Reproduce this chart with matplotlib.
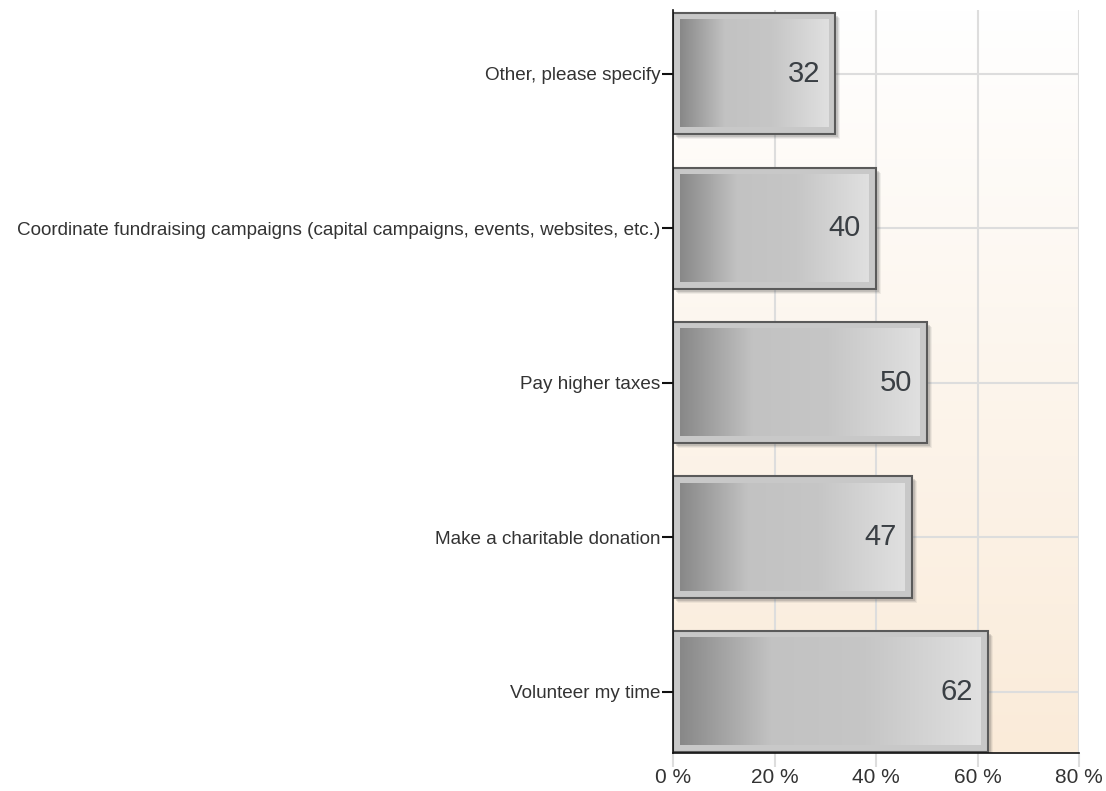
import numpy as np
import matplotlib
matplotlib.use("Agg")
import matplotlib.pyplot as plt
from matplotlib.colors import LinearSegmentedColormap
from matplotlib.patches import Rectangle

plt.rcParams['font.family'] = ['Liberation Sans', 'DejaVu Sans']

categories = [
    "Volunteer my time",
    "Make a charitable donation",
    "Pay higher taxes",
    "Coordinate fundraising campaigns (capital campaigns, events, websites, etc.)",
    "Other, please specify",
]
values = [62, 47, 50, 40, 32]
xticks = [0, 20, 40, 60, 80]
xtick_labels = ["0 %", "20 %", "40 %", "60 %", "80 %"]

W, H = 1106, 791
fig = plt.figure(figsize=(W / 100, H / 100), dpi=100)
ax = fig.add_axes([673 / W, (H - 753) / H, (1079 - 673) / W, (753 - 10) / H])

bar_h = 0.785
ax.set_xlim(0, 80)
ax.set_ylim(-bar_h / 2 - 0.005, len(categories) - 1 + bar_h / 2 + 0.02)

# plot-area background: white at the top fading to a warm cream at the bottom
bg_cmap = LinearSegmentedColormap.from_list("bg", ["#ffffff", "#faebd9"])
ax.imshow(np.linspace(0, 1, 256).reshape(-1, 1), aspect="auto", cmap=bg_cmap,
          extent=[0, 80, ax.get_ylim()[0], ax.get_ylim()[1]], origin="upper",
          zorder=0)

ax.set_xticks(xticks)
ax.set_xticklabels(xtick_labels)
ax.set_yticks(range(len(categories)))
ax.set_yticklabels(categories)
ax.grid(True, color="#dddddd", linewidth=1.5, zorder=1)
ax.set_axisbelow(True)

for s in ["top", "right"]:
    ax.spines[s].set_visible(False)
for s in ["left", "bottom"]:
    ax.spines[s].set_color("#111111")
    ax.spines[s].set_linewidth(1.2)
    ax.spines[s].set_zorder(6)

ax.tick_params(axis="y", length=8, width=1.5, color="#111111", labelsize=13.6,
               labelcolor="#333333", pad=1)
ax.tick_params(axis="x", length=10, width=1.5, color="#dddddd", labelsize=15,
               labelcolor="#333333", pad=1)

# pixel -> data unit helpers
px_x = 80 / (1079 - 673)
px_y = (ax.get_ylim()[1] - ax.get_ylim()[0]) / (753 - 10)

bar_cmap = LinearSegmentedColormap.from_list(
    "bar", [(0.0, "#888888"), (0.3, "#c2c2c2"), (0.62, "#c6c6c6"), (1.0, "#e0e0e0")])
grad = np.linspace(0, 1, 256).reshape(1, -1)

for i, v in enumerate(values):
    y0 = i - bar_h / 2
    # soft drop shadow
    for k, a in [(5, 0.08), (4, 0.12), (3, 0.18)]:
        ax.add_patch(Rectangle((k * px_x, y0 - k * px_y), v, bar_h,
                               facecolor="#555555", edgecolor="none",
                               alpha=a, zorder=2))
    # outer frame
    ax.add_patch(Rectangle((0, y0), v, bar_h, facecolor="#c8c8c8",
                           edgecolor="#5a5a5a", linewidth=1.5, zorder=3))
    # inner gradient face
    ins_x, ins_y = 7 * px_x, 7 * px_y
    ax.imshow(grad, aspect="auto", cmap=bar_cmap,
              extent=[ins_x, v - ins_x, y0 + ins_y, y0 + bar_h - ins_y],
              zorder=4)
    ax.text(v - 15 * px_x, i, f"{v}", ha="right", va="center",
            fontsize=21, color="#3a3f44", zorder=5)

ax.set_xlim(0, 80)
fig.savefig("out.png", dpi=100)
